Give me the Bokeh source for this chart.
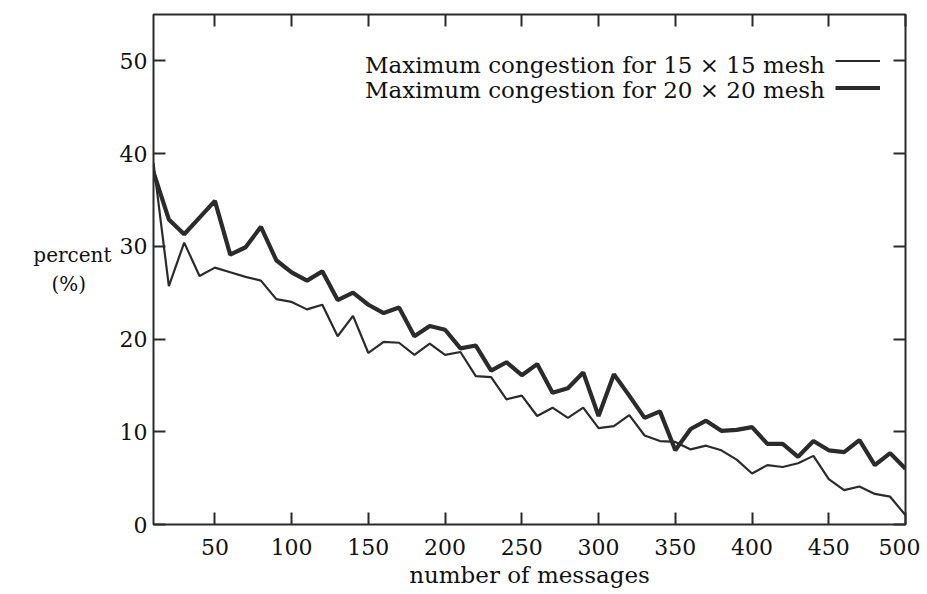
from bokeh.plotting import figure
from bokeh.models import (LinearAxis, Range1d, FixedTicker, CustomJSTickFormatter,
                          Legend, LegendItem, Label)
from bokeh.embed import file_html
from bokeh.resources import INLINE

# ---- data ----
messages = [10, 20, 30, 40, 50, 60, 70, 80, 90, 100,
            110, 120, 130, 140, 150, 160, 170, 180, 190, 200,
            210, 220, 230, 240, 250, 260, 270, 280, 290, 300,
            310, 320, 330, 340, 350, 360, 370, 380, 390, 400,
            410, 420, 430, 440, 450, 460, 470, 480, 490, 500]
mesh15 = [39.0, 25.7, 30.4, 26.8, 27.7, 27.2, 26.7, 26.3, 24.3, 24.0,
          23.2, 23.7, 20.3, 22.5, 18.5, 19.7, 19.6, 18.3, 19.5, 18.3,
          18.6, 16.0, 15.9, 13.5, 13.9, 11.7, 12.6, 11.5, 12.6, 10.4,
          10.6, 11.8, 9.6, 9.0, 8.9, 8.1, 8.5, 8.0, 7.0, 5.5,
          6.4, 6.2, 6.6, 7.4, 4.9, 3.7, 4.1, 3.3, 3.0, 1.0]
mesh20 = [38.0, 32.9, 31.3, 33.1, 34.9, 29.1, 29.9, 32.1, 28.5, 27.2,
          26.3, 27.3, 24.2, 25.0, 23.7, 22.8, 23.4, 20.3, 21.4, 21.0,
          19.0, 19.3, 16.6, 17.5, 16.1, 17.3, 14.2, 14.7, 16.4, 11.7,
          16.2, 13.9, 11.5, 12.2, 8.0, 10.3, 11.2, 10.1, 10.2, 10.5,
          8.7, 8.7, 7.3, 9.0, 8.0, 7.8, 9.1, 6.4, 7.7, 6.0]
x_ticks = [50, 100, 150, 200, 250, 300, 350, 400, 450, 500]
y_ticks = [0, 10, 20, 30, 40, 50]
labels = ["Maximum congestion for 15 \u00d7 15 mesh",
          "Maximum congestion for 20 \u00d7 20 mesh"]

FONT = "DejaVu Serif"
INK = "#2b2b2b"
TXT = "#111111"

p = figure(width=920, height=592, output_backend="svg", toolbar_location=None,
           x_range=Range1d(10, 500), y_range=Range1d(0, 55),
           min_border_left=153, min_border_right=15, min_border_top=14,
           min_border_bottom=68)
p.grid.visible = False
p.outline_line_color = INK
p.outline_line_width = 2
p.background_fill_color = "white"
p.border_fill_color = "white"

r15 = p.line(messages, mesh15, line_color=INK, line_width=2.2)
r20 = p.line(messages, mesh20, line_color=INK, line_width=4.2)

def style(ax, show):
    ax.axis_line_color = None
    ax.major_tick_in = 12
    ax.major_tick_out = 0
    ax.major_tick_line_color = INK
    ax.major_tick_line_width = 2
    ax.minor_tick_line_color = None
    ax.major_label_text_font = FONT
    ax.major_label_text_font_size = "22px"
    ax.major_label_text_color = TXT
    ax.major_label_text_font_style = "normal"
    if not show:
        ax.formatter = CustomJSTickFormatter(code="return ''")

xa = p.xaxis[0]
xa.ticker = FixedTicker(ticks=x_ticks)
style(xa, True)
xa.major_label_standoff = 14
xa.axis_label = "number of messages"
xa.axis_label_text_font = FONT
xa.axis_label_text_font_size = "23px"
xa.axis_label_text_font_style = "normal"
xa.axis_label_text_color = TXT
xa.axis_label_standoff = 4

ya = p.yaxis[0]
ya.ticker = FixedTicker(ticks=y_ticks)
style(ya, True)
ya.major_label_standoff = 6
ya.axis_label = "percent\n(%)\u00a0\u00a0\u00a0\u00a0"
ya.axis_label_orientation = "horizontal"
ya.axis_label_text_font = FONT
ya.axis_label_text_font_size = "20px"
ya.axis_label_text_font_style = "normal"
ya.axis_label_text_color = TXT
ya.axis_label_standoff = 5

top = LinearAxis(ticker=FixedTicker(ticks=x_ticks))
style(top, False)
p.add_layout(top, "above")
right = LinearAxis(ticker=FixedTicker(ticks=y_ticks))
style(right, False)
p.add_layout(right, "right")

legend = Legend(items=[LegendItem(label="", renderers=[r15]),
                       LegendItem(label="", renderers=[r20])],
                location=(682, 423), orientation="vertical",
                glyph_width=45, glyph_height=27, spacing=0, padding=0, margin=0,
                label_standoff=0, border_line_color=None,
                background_fill_alpha=0, label_text_font_size="1px")
p.add_layout(legend, "center")

for txt, yy in zip(labels, (49.6, 46.9)):
    p.add_layout(Label(x=447.5, y=yy, text=txt, text_align="right",
                       text_baseline="alphabetic", text_font=FONT,
                       text_font_size="23px", text_color=TXT))

open("out.html", "w").write(file_html(p, INLINE))
